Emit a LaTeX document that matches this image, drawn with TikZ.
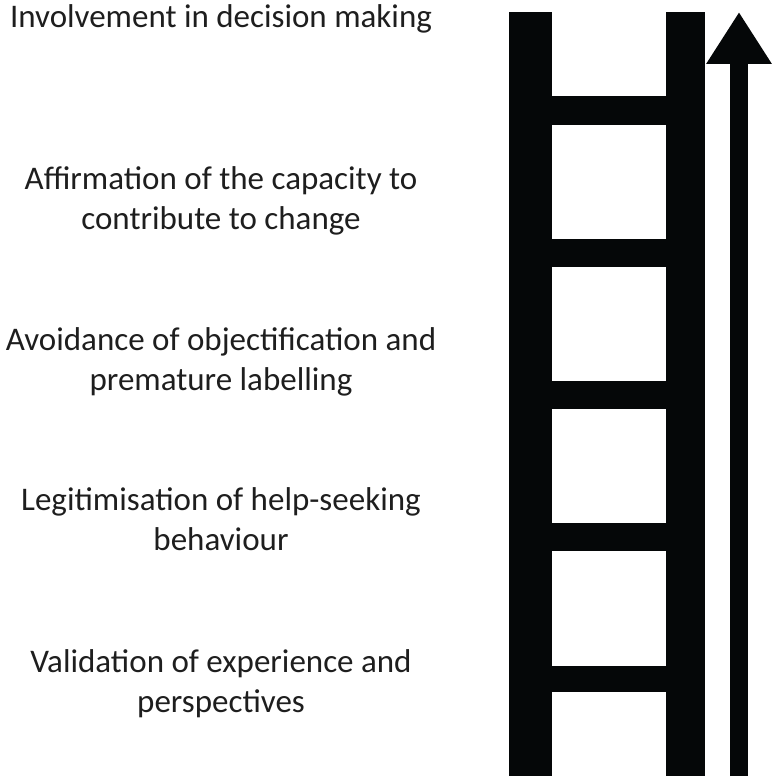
\documentclass[tikz,border=0pt]{standalone}
\usepackage{fontspec}
\setmainfont{Carlito}
\usepackage{tikz}
\usetikzlibrary{positioning,arrows.meta}

\definecolor{inkdark}{HTML}{050708}
\definecolor{textgray}{HTML}{1E1E1E}

\begin{document}
\begin{tikzpicture}[
    x=1pt, y=-1pt,
    step label/.style={anchor=base, align=center, text=textgray,
                       font=\fontsize{33}{40}\selectfont, inner sep=0pt},
    rail/.style={fill=inkdark},
    rung/.style={fill=inkdark},
    climb/.style={draw=inkdark, line width=18pt,
                  -{Triangle[width=62pt, length=52pt]}}
]
\useasboundingbox (0,0) rectangle (779,783);

% Ladder rails
\fill[rail] (509,12) rectangle (552,776);
\fill[rail] (666,12) rectangle (705,776);

% Ladder rungs
\foreach \top/\bot in {96/125, 239/267, 381/409, 523/551, 666/692}
    \fill[rung] (552,\top) rectangle (666,\bot);

% Upward arrow
\coordinate (arrow base) at (739,776);
\coordinate (arrow tip) at (739,12);
\draw[climb] (arrow base) -- (arrow tip);

% Labels, top to bottom (base = last line)
\node[step label] (involve) at (221,28) {Involvement in decision making};
\node[step label] (affirm) at (221,230) {Affirmation of the capacity to\\contribute to change};
\node[step label] (avoid) at (221,390) {Avoidance of objectification and\\premature labelling};
\node[step label] (legit) at (221,550) {Legitimisation of help-seeking\\behaviour};
\node[step label] (valid) at (221,712) {Validation of experience and\\perspectives};

\end{tikzpicture}
\end{document}
